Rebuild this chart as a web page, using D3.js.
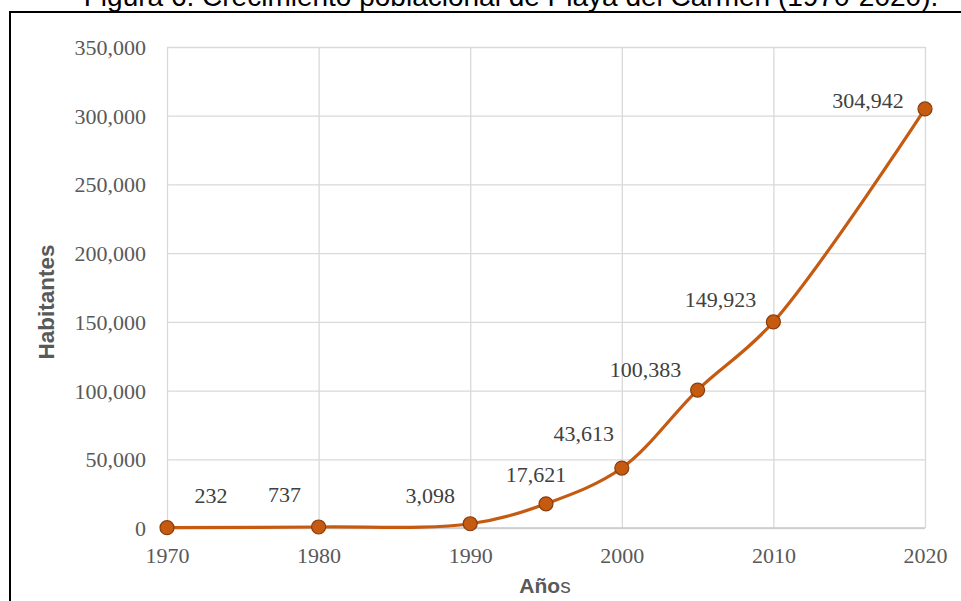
<!DOCTYPE html>
<html>
<head>
<meta charset="utf-8">
<script src="https://cdn.jsdelivr.net/npm/d3@7"></script>
<style>
  html, body { margin: 0; padding: 0; background: #fff; }
  svg { display: block; }
</style>
</head>
<body>
<svg id="chart" width="961" height="601"></svg>
<script>
// ---- data ----
const years = [1970, 1980, 1990, 1995, 2000, 2005, 2010, 2020];
const population = [232, 737, 3098, 17621, 43613, 100383, 149923, 304942];
const xTickValues = [1970, 1980, 1990, 2000, 2010, 2020];
const yTickValues = [0, 50000, 100000, 150000, 200000, 250000, 300000, 350000];
// label placement (layout, relative to each point)
const labelDx = [44, -34, -40, -10, -38, -52, -53, -57];
const labelDy = [-25, -25, -21, -22, -27, -13, -15, -1];

const titleText = "Figura 6. Crecimiento poblacional de Playa del Carmen (1970-2020).";
const yTitle = "Habitantes";

const svg = d3.select("#chart");
const margin = { left: 167, right: 961 - 925, top: 47, bottom: 601 - 528 };
const W = 961, H = 601;

const x = d3.scaleLinear().domain([1970, 2020]).range([margin.left, W - margin.right]);
const y = d3.scaleLinear().domain([0, 350000]).range([H - margin.bottom, margin.top]);

// title (partially cut at top, as in the reference)
svg.append("text")
  .attr("x", 511).attr("y", 6)
  .attr("text-anchor", "middle")
  .attr("font-family", "Liberation Sans, Arial, sans-serif")
  .attr("font-size", 28)
  .attr("fill", "#000")
  .text(titleText);

// frame
svg.append("rect")
  .attr("x", 10).attr("y", 12)
  .attr("width", 1000).attr("height", 700)
  .attr("fill", "none").attr("stroke", "#000").attr("stroke-width", 2);

// gridlines
const g = svg.append("g");
g.append("g")
  .attr("transform", `translate(${x.range()[0]},0)`)
  .call(d3.axisLeft(y).tickValues(yTickValues).tickSize(-(x.range()[1] - x.range()[0])).tickFormat(""))
  .call(a => a.select(".domain").remove())
  .call(a => a.selectAll("line").attr("stroke", "#d9d9d9").attr("stroke-width", 1.3));

g.append("g")
  .attr("transform", `translate(0,${y.range()[0]})`)
  .call(d3.axisBottom(x).tickValues(xTickValues).tickSize(-(y.range()[0] - y.range()[1])).tickFormat(""))
  .call(a => a.select(".domain").remove())
  .call(a => a.selectAll("line").attr("stroke", "#d9d9d9").attr("stroke-width", 1.3));

// bottom axis line
svg.append("line")
  .attr("x1", x.range()[0]).attr("x2", x.range()[1])
  .attr("y1", y(0)).attr("y2", y(0))
  .attr("stroke", "#c8c8c8").attr("stroke-width", 1.5);

// y tick labels
const fmt = d3.format(",");
const yAx = svg.append("g")
  .attr("transform", `translate(${x.range()[0] - 21},0)`)
  .call(d3.axisLeft(y).tickValues(yTickValues).tickSize(0).tickFormat(fmt));
yAx.select(".domain").remove();
yAx.selectAll("text")
  .attr("x", 0).attr("dy", "0.34em")
  .attr("font-family", "Liberation Serif, Times New Roman, serif")
  .attr("font-size", 22).attr("fill", "#595959");

// x tick labels
const xAx = svg.append("g")
  .attr("transform", `translate(0,${y.range()[0]})`)
  .call(d3.axisBottom(x).tickValues(xTickValues).tickSize(0).tickFormat(d3.format("d")));
xAx.select(".domain").remove();
xAx.selectAll("text")
  .attr("y", 35).attr("dy", 0)
  .attr("font-family", "Liberation Serif, Times New Roman, serif")
  .attr("font-size", 22).attr("fill", "#595959");

// axis titles
svg.append("text")
  .attr("transform", `translate(54,302) rotate(-90)`)
  .attr("text-anchor", "middle")
  .attr("font-family", "Liberation Sans, Arial, sans-serif")
  .attr("font-weight", "bold")
  .attr("font-size", 22.5)
  .attr("fill", "#595959")
  .text(yTitle);

const xt = svg.append("text")
  .attr("x", 545).attr("y", 593)
  .attr("text-anchor", "middle")
  .attr("font-family", "Liberation Sans, Arial, sans-serif")
  .attr("font-size", 21)
  .attr("fill", "#595959");
xt.append("tspan").attr("font-weight", "bold").text("Año");
xt.append("tspan").text("s");

// line
const data = years.map((yr, i) => ({ yr, v: population[i], i }));
const line = d3.line()
  .x(d => x(d.yr)).y(d => y(d.v))
  .curve(d3.curveCatmullRom.alpha(0.5));
svg.append("path")
  .datum(data)
  .attr("d", line)
  .attr("fill", "none")
  .attr("stroke", "#c55a11")
  .attr("stroke-width", 3.2);

// markers
svg.selectAll("circle.pt").data(data).join("circle")
  .attr("class", "pt")
  .attr("cx", d => x(d.yr)).attr("cy", d => y(d.v))
  .attr("r", 7)
  .attr("fill", "#c55a11")
  .attr("stroke", "#8a3d0c").attr("stroke-width", 1.2);

// data labels
svg.selectAll("text.lbl").data(data).join("text")
  .attr("class", "lbl")
  .attr("x", d => x(d.yr) + labelDx[d.i])
  .attr("y", d => y(d.v) + labelDy[d.i])
  .attr("text-anchor", "middle")
  .attr("font-family", "Liberation Serif, Times New Roman, serif")
  .attr("font-size", 22)
  .attr("fill", "#404040")
  .text(d => fmt(d.v));
</script>
</body>
</html>
